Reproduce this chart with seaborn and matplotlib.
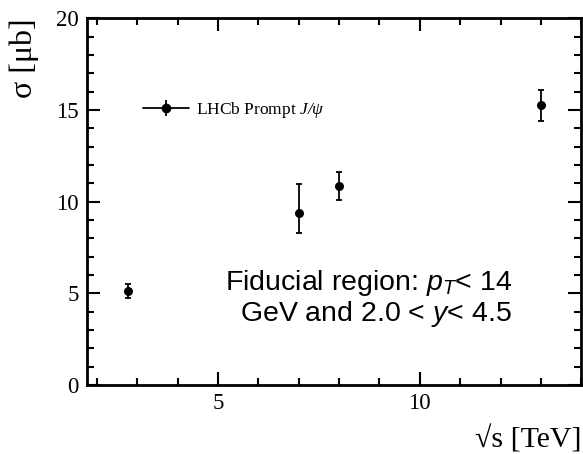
import numpy as np
import pandas as pd
import seaborn as sns
import matplotlib.pyplot as plt
from matplotlib.lines import Line2D
from matplotlib.ticker import MultipleLocator

# Data
energy = [2.76, 7.0, 8.0, 13.0]
sigma = [5.12, 9.39, 10.86, 15.26]
err_up = [0.38, 1.56, 0.77, 0.85]
err_down = [0.36, 1.09, 0.78, 0.87]
legend_label = r'LHCb Prompt $\mathcal{J/\psi}$'
note_text = 'Fiducial region: $p_T$< 14\nGeV and 2.0 < $y$< 4.5'

df = pd.DataFrame({'energy': energy, 'sigma': sigma})

sns.set_theme(style='ticks')
plt.rcParams['font.family'] = ['Liberation Serif', 'DejaVu Serif']
plt.rcParams['text.color'] = 'black'
plt.rcParams['axes.labelcolor'] = 'black'
plt.rcParams['mathtext.fontset'] = 'custom'
plt.rcParams['mathtext.it'] = 'Liberation Sans:italic'
plt.rcParams['mathtext.rm'] = 'Liberation Sans'
plt.rcParams['mathtext.cal'] = 'Liberation Serif:italic'

fig = plt.figure(figsize=(5.83, 4.54), dpi=100)
ax = fig.add_axes([0.149, 0.152, 0.848, 0.808])

ax.errorbar(df['energy'], df['sigma'], yerr=[err_down, err_up], fmt='none',
            ecolor='black', elinewidth=1.3, capsize=2.2, capthick=1.3)
sns.scatterplot(data=df, x='energy', y='sigma', ax=ax, color='black', s=42,
                edgecolor='black', linewidth=0, zorder=3)

ax.set_xlim(1.75, 14)
ax.set_ylim(0, 20)
ax.xaxis.set_major_locator(MultipleLocator(5))
ax.xaxis.set_minor_locator(MultipleLocator(1))
ax.yaxis.set_major_locator(MultipleLocator(5))
ax.yaxis.set_minor_locator(MultipleLocator(1))
ax.tick_params(which='both', direction='in', top=True, right=True,
               labelsize=16.5, width=1.5, colors='black', pad=6)
ax.tick_params(which='major', length=9.5)
ax.tick_params(which='minor', length=5)
for sp in ax.spines.values():
    sp.set_linewidth(2)
    sp.set_color('black')

ax.set_xlabel('√s [TeV]', fontsize=21.5, loc='right', labelpad=8)
ax.set_ylabel('σ [μb]', fontsize=23, loc='top', labelpad=12)

h1 = Line2D([], [], color='black', lw=1.3, marker='o', markersize=6)
h2 = Line2D([], [], color='black', lw=0, marker='|', markersize=11, markeredgewidth=1.3)
ax.legend([(h1, h2)], [legend_label], loc='center left',
          bbox_to_anchor=(0.095, 0.75), frameon=False, fontsize=12.5,
          handlelength=2.7, handletextpad=0.4, borderpad=0)

ax.text(0.86, 0.235, note_text, transform=ax.transAxes, ha='right', va='center',
        multialignment='right', fontsize=20.5, family='Liberation Sans',
        linespacing=1.05)

fig.savefig('out.png', dpi=100)
